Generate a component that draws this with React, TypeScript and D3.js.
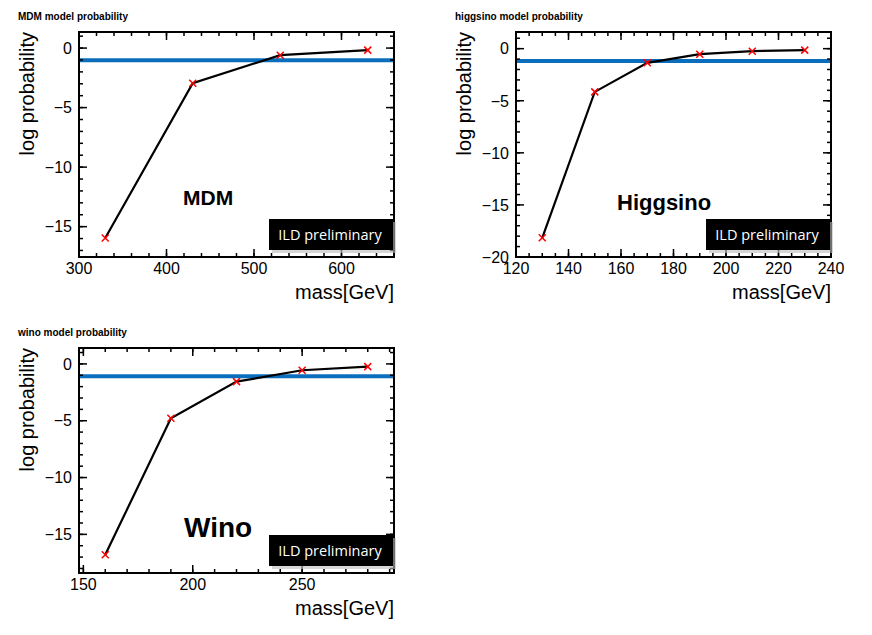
import * as d3 from "d3";

// MDM scan
const mdmMass = [330, 430, 530, 630];
const mdmLogP = [-15.95, -2.95, -0.6, -0.17];
// Higgsino scan
const higgsinoMass = [130, 150, 170, 190, 210, 230];
const higgsinoLogP = [-18.16, -4.15, -1.36, -0.53, -0.24, -0.14];
// Wino scan
const winoMass = [160, 190, 220, 250, 280];
const winoLogP = [-16.8, -4.78, -1.56, -0.56, -0.24];

const thresholds = [-1.03, -1.18, -1.09];

const FONT = "'Liberation Sans', Arial, Helvetica, sans-serif";
const BLUE = "#0b6ebd";

type PanelProps = {
  ox: number;
  oy: number;
  title: string;
  name: string;
  nameSize: number;
  nameX: number;
  nameY: number;
  mass: number[];
  logP: number[];
  thr: number;
  xDomain: [number, number];
  yDomain: [number, number];
  xMajor: number;
  xMinor: number;
};

function Panel(p: PanelProps) {
  const left = 79, right = 394, top = 32, bottom = 257;
  const x = d3.scaleLinear().domain(p.xDomain).range([left, right]);
  const y = d3.scaleLinear().domain(p.yDomain).range([bottom, top]);

  const rangeTicks = (lo: number, hi: number, step: number) => {
    const out: number[] = [];
    for (let v = Math.ceil(lo / step - 1e-9) * step; v <= hi + 1e-9; v += step) out.push(v);
    return out;
  };
  const xMaj = rangeTicks(p.xDomain[0], p.xDomain[1], p.xMajor);
  const xMin = rangeTicks(p.xDomain[0], p.xDomain[1], p.xMinor);
  const yMaj = rangeTicks(p.yDomain[0], p.yDomain[1], 5);
  const yMin = rangeTicks(p.yDomain[0], p.yDomain[1], 1);

  const pts = p.mass.map((m, i) => [m, p.logP[i]] as [number, number]);
  const line = d3.line<[number, number]>().x(d => x(d[0])).y(d => y(d[1]));
  const fmt = (v: number) => (v < 0 ? "\u2212" + Math.abs(v) : String(v));
  const MAJ = 8, MIN = 4;

  return (
    <g transform={`translate(${p.ox},${p.oy})`} fontFamily={FONT}>
      <text x={18} y={20} fontSize={10} fontWeight="bold" fill="#000">{p.title}</text>

      {/* threshold */}
      <line x1={left} x2={right} y1={y(p.thr)} y2={y(p.thr)} stroke={BLUE} strokeWidth={4} />

      <path d={line(pts)!} fill="none" stroke="#000" strokeWidth={2.2} />
      {pts.map((d, i) => (
        <path key={i} d={`M${x(d[0]) - 3.5},${y(d[1]) - 3.5}l7,7M${x(d[0]) - 3.5},${y(d[1]) + 3.5}l7,-7`}
          stroke="#f00" strokeWidth={1.5} fill="none" />
      ))}

      {/* ticks */}
      {xMin.map((v, i) => (
        <g key={"xm" + i} stroke="#000" strokeWidth={1.5}>
          <line x1={x(v)} x2={x(v)} y1={bottom} y2={bottom - MIN} />
          <line x1={x(v)} x2={x(v)} y1={top} y2={top + MIN} />
        </g>
      ))}
      {xMaj.map((v, i) => (
        <g key={"xM" + i}>
          <line x1={x(v)} x2={x(v)} y1={bottom} y2={bottom - MAJ} stroke="#000" strokeWidth={1.5} />
          <line x1={x(v)} x2={x(v)} y1={top} y2={top + MAJ} stroke="#000" strokeWidth={1.5} />
          <text x={x(v)} y={274} fontSize={16} textAnchor="middle" fill="#000">{fmt(v)}</text>
        </g>
      ))}
      {yMin.map((v, i) => (
        <g key={"ym" + i} stroke="#000" strokeWidth={1.5}>
          <line x1={left} x2={left + MIN} y1={y(v)} y2={y(v)} />
          <line x1={right} x2={right - MIN} y1={y(v)} y2={y(v)} />
        </g>
      ))}
      {yMaj.map((v, i) => (
        <g key={"yM" + i}>
          <line x1={left} x2={left + MAJ} y1={y(v)} y2={y(v)} stroke="#000" strokeWidth={1.5} />
          <line x1={right} x2={right - MAJ} y1={y(v)} y2={y(v)} stroke="#000" strokeWidth={1.5} />
          <text x={72} y={y(v)} dy="0.36em" fontSize={16} textAnchor="end" fill="#000">{fmt(v)}</text>
        </g>
      ))}

      <rect x={left} y={top} width={right - left} height={bottom - top} fill="none" stroke="#000" strokeWidth={2} />

      <text x={p.nameX} y={p.nameY} fontSize={p.nameSize} fontWeight="bold" fill="#000">{p.name}</text>

      {/* ILD preliminary label */}
      <rect x={272} y={222} width={124} height={31} fill="#bbb" opacity={0.6} />
      <rect x={269} y={219} width={124} height={31} fill="#000" />
      <text x={330} y={240} fontSize={14.5} fill="#fff" textAnchor="middle" fontFamily="'Open Sans', 'Noto Sans', sans-serif">ILD preliminary</text>

      <text transform={`translate(34,${top}) rotate(-90)`} fontSize={20} textAnchor="end" fill="#000">log probability</text>
      <text x={right} y={299} fontSize={20} textAnchor="end" fill="#000">mass[GeV]</text>
    </g>
  );
}

export default function App() {
  return (
    <svg width={872} height={635} style={{ position: "absolute", left: 0, top: 0, background: "#fff" }}>
      <Panel ox={0} oy={0} title="MDM model probability" name="MDM" nameSize={21} nameX={183} nameY={205}
        mass={mdmMass} logP={mdmLogP} thr={thresholds[0]} xDomain={[300, 660]} yDomain={[-17.55, 1.35]}
        xMajor={100} xMinor={20} />
      <Panel ox={437} oy={0} title="higgsino model probability" name="Higgsino" nameSize={22} nameX={180} nameY={210}
        mass={higgsinoMass} logP={higgsinoLogP} thr={thresholds[1]} xDomain={[120, 240]} yDomain={[-20, 1.6]}
        xMajor={20} xMinor={5} />
      <Panel ox={0} oy={316} title="wino model probability" name="Wino" nameSize={28} nameX={184} nameY={221}
        mass={winoMass} logP={winoLogP} thr={thresholds[2]} xDomain={[148, 292]} yDomain={[-18.4, 1.4]}
        xMajor={50} xMinor={10} />
    </svg>
  );
}
